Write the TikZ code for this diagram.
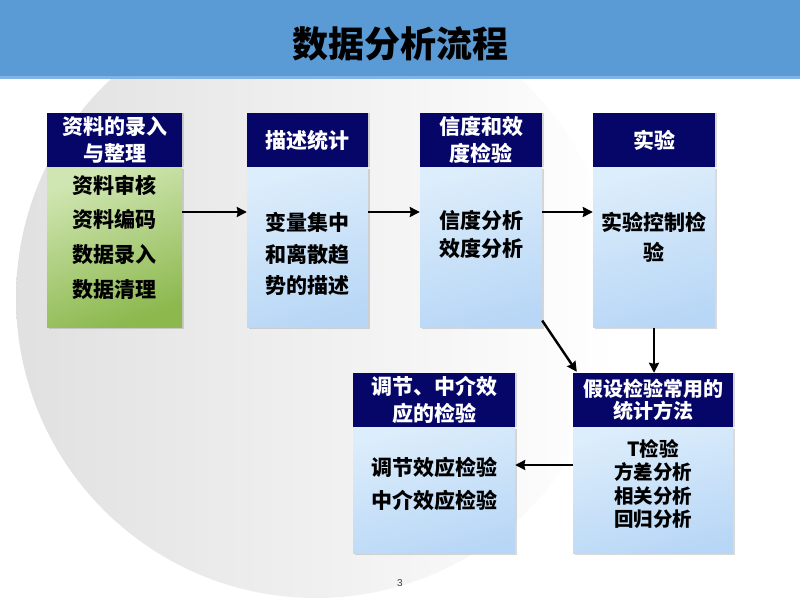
\documentclass[tikz,border=0pt]{standalone}
\usepackage{fontspec}
\usepackage{tikz}
\usetikzlibrary{shapes,arrows.meta,positioning,calc,shadows}
\setmainfont{Liberation Sans}
\newfontfamily\cjk{Noto Sans CJK SC}
\definecolor{bannerblue}{RGB}{91, 155, 213}
\definecolor{bannerline}{RGB}{128, 180, 228}
\definecolor{headnavy}{RGB}{6, 6, 104}
\definecolor{greentop}{RGB}{208, 230, 178}
\definecolor{greenbot}{RGB}{140, 184, 78}
\definecolor{bluetop}{RGB}{220, 237, 251}
\definecolor{bluebot}{RGB}{184, 215, 246}

\tikzset{
  boxhead/.style={fill=headnavy, text=white, inner sep=0pt, text width=#1, minimum width=#1,
    minimum height=54pt, align=center, font=\cjk\bfseries\fontsize{21}{27}\selectfont,
    drop shadow={shadow xshift=2pt, shadow yshift=0pt, opacity=0.3}},
  greenbody/.style={top color=greentop, bottom color=greenbot, shading angle=20, inner sep=0pt,
    minimum width=#1, minimum height=160pt,
    drop shadow={shadow xshift=2pt, shadow yshift=-2pt, opacity=0.3}},
  bluebody/.style={top color=bluetop, bottom color=bluebot, shading angle=15, inner sep=0pt,
    minimum width=#1, minimum height=160pt,
    drop shadow={shadow xshift=2pt, shadow yshift=-2pt, opacity=0.3}},
  bodytext/.style={align=center, inner sep=0pt, font=\cjk\bfseries\fontsize{21}{33}\selectfont},
  flow/.style={line width=2.4pt, ->}
}

\begin{document}
\begin{tikzpicture}[x=1pt, y=-1pt, >={Stealth[length=10pt,width=10pt,inset=1pt]}]
    \useasboundingbox (0,0) rectangle (800,600);

    % Grey disc in the background
    \shade[left color=black!12, right color=white] (316,298) circle (300pt);

    % Title banner
    \fill[bannerblue] (0,0) rectangle (800,76);
    \fill[bannerline] (0,76) rectangle (800,79);
    \node[font=\cjk\bfseries\fontsize{36}{36}\selectfont] (title) at (400,44) {数据分析流程};

    % Top row: entry and cleaning
    \node[boxhead=135pt] (h1) at (114.5,140) {资料的录入\\与整理};
    \node[greenbody=135pt, below=0pt of h1] (b1) {};
    \node[bodytext, font=\cjk\bfseries\fontsize{21}{34.7}\selectfont] (t1) at (114.5,237)
        {资料审核\\资料编码\\数据录入\\数据清理};

    % Descriptive statistics
    \node[boxhead=121pt] (h2) at (307.5,140) {描述统计};
    \node[bluebody=121pt, below=0pt of h2] (b2) {};
    \node[bodytext, font=\cjk\bfseries\fontsize{21}{31.5}\selectfont] (t2) at (307.5,254)
        {变量集中\\和离散趋\\势的描述};

    % Reliability and validity
    \node[boxhead=122pt] (h3) at (481,140) {信度和效\\度检验};
    \node[bluebody=122pt, below=0pt of h3] (b3) {};
    \node[bodytext, font=\cjk\bfseries\fontsize{21}{28}\selectfont] (t3) at (481,234)
        {信度分析\\效度分析};

    % Experiment
    \node[boxhead=122pt] (h4) at (654,140) {实验};
    \node[bluebody=122pt, below=0pt of h4] (b4) {};
    \node[bodytext, font=\cjk\bfseries\fontsize{21}{30}\selectfont] (t4) at (654,237)
        {实验控制检\\验};

    % Bottom row: moderation and mediation
    \node[boxhead=162pt] (h5) at (434,400) {调节、中介效\\应的检验};
    \node[bluebody=162pt, minimum height=126pt, below=0pt of h5] (b5) {};
    \node[bodytext, font=\cjk\bfseries\fontsize{21}{33}\selectfont] (t5) at (434,483.5)
        {调节效应检验\\中介效应检验};

    % Hypothesis testing
    \node[boxhead=160pt, font=\cjk\bfseries\fontsize{20}{22.5}\selectfont] (h6) at (653,400)
        {假设检验常用的\\统计方法};
    \node[bluebody=160pt, minimum height=126pt, below=0pt of h6] (b6) {};
    \node[bodytext, font=\cjk\bfseries\fontsize{19.5}{23.3}\selectfont] (t6) at (653,484)
        {T检验\\方差分析\\相关分析\\回归分析};

    % Connectors
    \coordinate (toprow) at (0,212);
    \coordinate (lowrow) at (0,465);
    \draw[flow] (b1.east |- toprow) -- (b2.west |- toprow);
    \draw[flow] (b2.east |- toprow) -- (b3.west |- toprow);
    \draw[flow] (b3.east |- toprow) -- (b4.west |- toprow);
    \draw[flow] ([yshift=7pt]b3.south east) -- ([xshift=4pt,yshift=1pt]h6.north west);
    \draw[flow] (b4.south) -- (b4.south |- h6.north);
    \draw[flow] (b6.west |- lowrow) -- (b5.east |- lowrow);

    % Page number
    \node[font=\fontsize{10}{10}\selectfont, text=black!75] (page) at (400,583) {3};
\end{tikzpicture}
\end{document}
